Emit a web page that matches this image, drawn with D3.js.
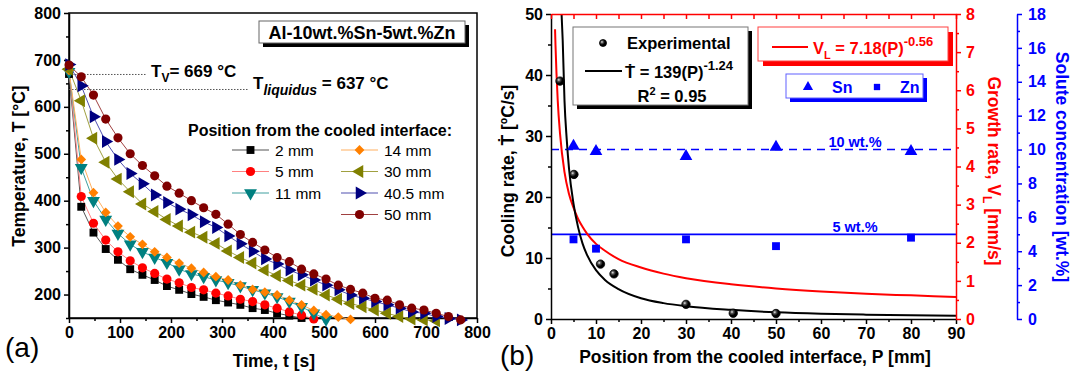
<!DOCTYPE html>
<html>
<head>
<meta charset="utf-8">
<script src="https://cdn.jsdelivr.net/npm/d3@7"></script>
<style>
body { margin: 0; background: #fff; }
svg text { font-family: "Liberation Sans", Arial, sans-serif; }
</style>
</head>
<body>
<svg id="chart" width="1072" height="378"></svg>
<script>
// ---- data (a): cooling curves, one reading every 24 s ----
var times = [0,24,48,72,96,120,144,168,192,216,240,264,288,312,336,360,384,408,432,456,480,504,528,552,576,600,624,648,672,696,720,744,768];
var series = [
  {name: "2 mm",    color: "#000000", line: "#555555", sym: "square",  T: [670,387,332,297,274,254,242,231,218,210,201,195,188,183,178,171,167,160,155,150]},
  {name: "5 mm",    color: "#ff0000", line: "#ff8080", sym: "circle",  T: [680,409,352,316,291,272,257,245,233,225,215,210,203,197,190,185,178,171,163,156,148]},
  {name: "11 mm",   color: "#008080", line: "#40a0a0", sym: "down",    T: [675,470,400,360,330,307,291,279,268,254,244,238,231,225,218,210,203,195,185,174,160,147]},
  {name: "14 mm",   color: "#ff8000", line: "#ffb060", sym: "diamond", T: [678,488,417,375,346,323,307,291,279,267,256,247,238,231,220,211,205,199,188,178,166,157,152,147]},
  {name: "30 mm",   color: "#808000", line: "#a0a040", sym: "left",    T: [680,613,533,482,446,419,393,377,360,346,333,322,309,293,279,267,252,240,230,220,211,199,190,181,174,167,160,153,148,146,144]},
  {name: "40.5 mm", color: "#000080", line: "#5050b0", sym: "right",   T: [690,645,579,526,488,458,436,412,396,382,370,355,343,325,308,292,276,265,252,242,231,220,210,199,192,185,178,171,163,160,153,149,146]},
  {name: "50 mm",   color: "#800000", line: "#a04040", sym: "circle",  T: [689,664,625,574,534,500,475,453,431,416,400,385,371,350,328,311,295,279,270,254,244,233,220,211,203,192,188,178,171,167,160,153,146]}
];
var tV = 669, tLiq = 637;

// ---- data (b) ----
var expP = [2, 5.1, 11, 14, 30, 40.5, 50];
var expRate = [39, 23.7, 9.0, 7.4, 2.4, 0.95, 0.9];
var fitP = [2.35,2.6,3,3.5,4,5,6,7,8,10,12,15,20,25,30,40,50,60,70,80,90];
var fitRate = [50,45.7,35.8,29.4,24.7,18.9,15.1,12.4,10.5,8.0,6.4,4.9,3.4,2.6,2.1,1.5,1.1,0.86,0.71,0.60,0.52];
var vlP = [0.9,1,1.5,2,3,4,5,6,7,8,10,12,15,20,25,30,40,50,60,70,80,90];
var vlRate = [7.6,7.18,5.72,4.87,3.85,3.28,2.92,2.63,2.42,2.24,1.97,1.79,1.57,1.35,1.19,1.07,0.91,0.80,0.72,0.66,0.62,0.58];
var soluteP = [5, 10, 30, 50, 80];
var snConc = [10.2, 9.9, 9.6, 10.15, 9.9];
var znConc = [4.7, 4.15, 4.7, 4.3, 4.8];
var snNominal = 10, znNominal = 5;

var svg = d3.select("#chart");

function styleAxis(g, color, fs) {
  g.selectAll("path,line").attr("stroke", color).attr("stroke-width", 1.5);
  g.selectAll("text").attr("fill", color).attr("font-size", fs || 16).attr("font-weight", "bold")
    .attr("font-family", "Liberation Sans, Arial, sans-serif");
}
function addAxis(gen, tx, ty, color, minorVals, minorGen) {
  var g = svg.append("g").attr("transform", "translate(" + tx + "," + ty + ")").call(gen);
  styleAxis(g, color);
  if (minorVals) {
    var m = svg.append("g").attr("transform", "translate(" + tx + "," + ty + ")")
      .call(minorGen.tickValues(minorVals).tickSize(3).tickFormat(""));
    m.select(".domain").remove();
    styleAxis(m, color);
  }
  return g;
}
function symbolPath(sym, size) {
  var s = {square: d3.symbolSquare, circle: d3.symbolCircle, diamond: d3.symbolSquare}[sym] || d3.symbolTriangle;
  return d3.symbol().type(s).size(size)();
}
function symbolRot(sym) {
  return sym == "down" ? 180 : sym == "left" ? -90 : sym == "right" ? 90 : sym == "diamond" ? 45 : 0;
}
function symbolSize(sym) {
  return sym == "circle" ? 66 : sym == "square" ? 62 : sym == "diamond" ? 48 : 72;
}

// ================= chart (a) =================
var xL = d3.scaleLinear().domain([0, 800]).range([69, 477]);
var yL = d3.scaleLinear().domain([150, 800]).range([318, 13]);

svg.append("rect").attr("x", 69).attr("y", 13).attr("width", 408).attr("height", 305)
  .attr("fill", "none").attr("stroke", "#000").attr("stroke-width", 1.5);

addAxis(d3.axisBottom(xL).tickValues(d3.range(0, 801, 100)).tickSize(5).tickSizeOuter(0).tickPadding(4),
  0, 318, "#000", d3.range(50, 800, 100), d3.axisBottom(xL));
addAxis(d3.axisLeft(yL).tickValues(d3.range(200, 801, 100)).tickSize(5).tickSizeOuter(0).tickPadding(3),
  69, 0, "#000", d3.range(150, 800, 100), d3.axisLeft(yL));

// liquidus / TV dotted lines
svg.append("line").attr("x1", xL(0)).attr("x2", 146).attr("y1", yL(tV)).attr("y2", yL(tV))
  .attr("stroke", "#555").attr("stroke-dasharray", "1.5,1.5");
svg.append("line").attr("x1", xL(0)).attr("x2", 248).attr("y1", yL(tLiq)).attr("y2", yL(tLiq))
  .attr("stroke", "#555").attr("stroke-dasharray", "1.5,1.5");

var tv = svg.append("text").attr("x", 151).attr("y", 77).attr("font-size", 17).attr("font-weight", "bold");
tv.append("tspan").text("T");
tv.append("tspan").attr("dy", 5).attr("font-size", 12).text("V");
tv.append("tspan").attr("dy", -5).text("= " + tV + " °C");
var tl = svg.append("text").attr("x", 253).attr("y", 89).attr("font-size", 17).attr("font-weight", "bold");
tl.append("tspan").text("T");
tl.append("tspan").attr("dy", 6).attr("font-size", 14).attr("font-style", "italic").text("liquidus");
tl.append("tspan").attr("dy", -6).text(" = " + tLiq + " °C");

// curves
var lineL = d3.line().x(function(d, i) { return xL(times[i]); }).y(function(d) { return yL(d); });
series.forEach(function(s) {
  svg.append("path").attr("d", lineL(s.T)).attr("fill", "none").attr("stroke", s.line).attr("stroke-width", 1);
});
series.forEach(function(s) {
  svg.append("g").selectAll("path").data(s.T).enter().append("path")
    .attr("d", symbolPath(s.sym, symbolSize(s.sym)))
    .attr("transform", function(d, i) { return "translate(" + xL(times[i]) + "," + yL(d) + ") rotate(" + symbolRot(s.sym) + ")"; })
    .attr("fill", s.color);
});

// alloy label box
svg.append("rect").attr("x", 263).attr("y", 25).attr("width", 206).attr("height", 22).attr("fill", "#000");
svg.append("rect").attr("x", 259).attr("y", 21).attr("width", 206).attr("height", 22)
  .attr("fill", "#fff").attr("stroke", "#666").attr("stroke-width", 1);
svg.append("text").attr("x", 362).attr("y", 39).attr("text-anchor", "middle")
  .attr("font-size", 18).attr("font-weight", "bold").text("Al-10wt.%Sn-5wt.%Zn");

// legend
svg.append("text").attr("x", 188).attr("y", 136).attr("font-size", 16).attr("font-weight", "bold")
  .text("Position from the cooled interface:");
var legPos = [[0,0],[0,1],[0,2],[1,0],[1,1],[1,2],[1,3]];
series.forEach(function(s, j) {
  var col = legPos[j][0], row = legPos[j][1];
  var x0 = col == 0 ? 232 : 341, y0 = 150 + row * 21.5;
  svg.append("line").attr("x1", x0).attr("x2", x0 + 37).attr("y1", y0).attr("y2", y0)
    .attr("stroke", s.line).attr("stroke-width", 1.2);
  svg.append("path").attr("d", symbolPath(s.sym, symbolSize(s.sym)))
    .attr("transform", "translate(" + (x0 + 18.5) + "," + y0 + ") rotate(" + symbolRot(s.sym) + ")")
    .attr("fill", s.color);
  svg.append("text").attr("x", x0 + 43).attr("y", y0 + 5.5).attr("font-size", 15.5).text(s.name);
});

svg.append("text").attr("x", 5).attr("y", 357).attr("font-size", 28).text("(a)");
svg.append("text").attr("x", 274).attr("y", 367).attr("text-anchor", "middle")
  .attr("font-size", 17.5).attr("font-weight", "bold").text("Time, t [s]");
svg.append("text").attr("transform", "translate(25,166) rotate(-90)").attr("text-anchor", "middle")
  .attr("font-size", 17.5).attr("font-weight", "bold").text("Temperature, T [°C]");

// ================= chart (b) =================
var xR = d3.scaleLinear().domain([0, 90]).range([551, 956]);
var yR = d3.scaleLinear().domain([0, 50]).range([319, 14]);
var yRed = d3.scaleLinear().domain([0, 8]).range([319, 14]);
var yBlue = d3.scaleLinear().domain([0, 18]).range([319, 14]);

var defs = svg.append("defs");
var grad = defs.append("radialGradient").attr("id", "ball").attr("cx", "35%").attr("cy", "35%").attr("r", "60%");
grad.append("stop").attr("offset", "0%").attr("stop-color", "#eee");
grad.append("stop").attr("offset", "30%").attr("stop-color", "#555");
grad.append("stop").attr("offset", "70%").attr("stop-color", "#000");
defs.append("clipPath").attr("id", "clipR").append("rect").attr("x", 551).attr("y", 14).attr("width", 405).attr("height", 305);

// nominal composition lines
svg.append("line").attr("x1", xR(0)).attr("x2", xR(90)).attr("y1", yBlue(snNominal)).attr("y2", yBlue(snNominal))
  .attr("stroke", "#0000ff").attr("stroke-width", 1.6).attr("stroke-dasharray", "8,6");
svg.append("line").attr("x1", xR(0)).attr("x2", xR(90)).attr("y1", yBlue(znNominal)).attr("y2", yBlue(znNominal))
  .attr("stroke", "#0000ff").attr("stroke-width", 1.8);
svg.append("text").attr("x", 855).attr("y", 147).attr("text-anchor", "middle").attr("fill", "#0000ff")
  .attr("font-size", 14.5).attr("font-weight", "bold").text(snNominal + " wt.%");
svg.append("text").attr("x", 855).attr("y", 232).attr("text-anchor", "middle").attr("fill", "#0000ff")
  .attr("font-size", 14.5).attr("font-weight", "bold").text(znNominal + " wt.%");

var plotR = svg.append("g").attr("clip-path", "url(#clipR)");
plotR.append("path")
  .attr("d", d3.line().curve(d3.curveMonotoneX).x(function(d, i) { return xR(vlP[i]); }).y(function(d) { return yRed(d); })(vlRate))
  .attr("fill", "none").attr("stroke", "#ff0000").attr("stroke-width", 2);
plotR.append("path")
  .attr("d", d3.line().curve(d3.curveMonotoneX).x(function(d, i) { return xR(fitP[i]); }).y(function(d) { return yR(d); })(fitRate))
  .attr("fill", "none").attr("stroke", "#000").attr("stroke-width", 2);

svg.append("g").selectAll("path").data(snConc).enter().append("path")
  .attr("d", d3.symbol().type(d3.symbolTriangle).size(70)())
  .attr("transform", function(d, i) { return "translate(" + xR(soluteP[i]) + "," + yBlue(d) + ")"; })
  .attr("fill", "#0000ff");
svg.append("g").selectAll("path").data(znConc).enter().append("path")
  .attr("d", d3.symbol().type(d3.symbolSquare).size(62)())
  .attr("transform", function(d, i) { return "translate(" + xR(soluteP[i]) + "," + yBlue(d) + ")"; })
  .attr("fill", "#0000ff");
svg.append("g").selectAll("circle").data(expRate).enter().append("circle")
  .attr("cx", function(d, i) { return xR(expP[i]); }).attr("cy", function(d) { return yR(d); })
  .attr("r", 4.2).attr("fill", "url(#ball)").attr("stroke", "#000").attr("stroke-width", 0.8);

// axes
addAxis(d3.axisBottom(xR).tickValues(d3.range(0, 91, 10)).tickSize(5).tickSizeOuter(0).tickPadding(4),
  0, 319, "#000", d3.range(5, 90, 10), d3.axisBottom(xR));
addAxis(d3.axisLeft(yR).tickValues(d3.range(0, 51, 10)).tickSize(5).tickSizeOuter(0).tickPadding(3),
  551, 0, "#000", d3.range(5, 50, 10), d3.axisLeft(yR));
var topAx = svg.append("g").attr("transform", "translate(0,14)")
  .call(d3.axisBottom(xR).tickValues(d3.range(0, 91, 5)).tickSize(5).tickSizeOuter(0).tickFormat(""));
styleAxis(topAx, "#ff0000");
addAxis(d3.axisRight(yRed).tickValues(d3.range(0, 9, 1)).tickSize(5).tickSizeOuter(0).tickPadding(5),
  956, 0, "#ff0000", d3.range(0.5, 8, 1), d3.axisRight(yRed));
addAxis(d3.axisRight(yBlue).tickValues(d3.range(0, 19, 2)).tickSize(5).tickSizeOuter(0).tickPadding(6),
  1017, 0, "#0000ff", d3.range(1, 18, 2), d3.axisRight(yBlue));

// legend 1
svg.append("rect").attr("x", 577).attr("y", 31).attr("width", 175).attr("height", 78).attr("fill", "#000");
svg.append("rect").attr("x", 573).attr("y", 27).attr("width", 175).attr("height", 78)
  .attr("fill", "#fff").attr("stroke", "#777").attr("stroke-width", 1);
svg.append("circle").attr("cx", 603).attr("cy", 43).attr("r", 3.5).attr("fill", "url(#ball)").attr("stroke", "#000").attr("stroke-width", 0.8);
svg.append("text").attr("x", 627).attr("y", 49).attr("font-size", 16.5).attr("font-weight", "bold").text("Experimental");
svg.append("line").attr("x1", 585).attr("x2", 622).attr("y1", 71).attr("y2", 71).attr("stroke", "#000").attr("stroke-width", 2);
var fitT = svg.append("text").attr("x", 625).attr("y", 78).attr("font-size", 16.5).attr("font-weight", "bold");
fitT.append("tspan").text("Ṫ = 139(P)");
fitT.append("tspan").attr("dy", -8).attr("font-size", 13).text("-1.24");
var r2 = svg.append("text").attr("x", 672).attr("y", 102).attr("text-anchor", "middle").attr("font-size", 16.5).attr("font-weight", "bold");
r2.append("tspan").text("R");
r2.append("tspan").attr("dy", -7).attr("font-size", 11).text("2");
r2.append("tspan").attr("dy", 7).text(" = 0.95");

// legend 2 (red)
svg.append("rect").attr("x", 763).attr("y", 32).attr("width", 190).attr("height", 34).attr("fill", "#ff0000");
svg.append("rect").attr("x", 758).attr("y", 27).attr("width", 190).attr("height", 34)
  .attr("fill", "#fff").attr("stroke", "#ff4040").attr("stroke-width", 1);
svg.append("line").attr("x1", 772).attr("x2", 808).attr("y1", 47).attr("y2", 47).attr("stroke", "#ff0000").attr("stroke-width", 2);
var vl = svg.append("text").attr("x", 813).attr("y", 54).attr("fill", "#ff0000").attr("font-size", 16.5).attr("font-weight", "bold");
vl.append("tspan").text("V");
vl.append("tspan").attr("dy", 5).attr("font-size", 11).text("L");
vl.append("tspan").attr("dy", -5).text(" = 7.18(P)");
vl.append("tspan").attr("dy", -8).attr("font-size", 13).text("-0.56");

// legend 3 (blue)
svg.append("rect").attr("x", 790).attr("y", 78).attr("width", 137).attr("height", 24).attr("fill", "#0000ff");
svg.append("rect").attr("x", 786).attr("y", 74).attr("width", 137).attr("height", 24)
  .attr("fill", "#fff").attr("stroke", "#6060ff").attr("stroke-width", 1);
svg.append("path").attr("d", d3.symbol().type(d3.symbolTriangle).size(45)()).attr("transform", "translate(808,87)").attr("fill", "#0000ff");
svg.append("text").attr("x", 832).attr("y", 93).attr("fill", "#0000ff").attr("font-size", 16).attr("font-weight", "bold").text("Sn");
svg.append("path").attr("d", d3.symbol().type(d3.symbolSquare).size(40)()).attr("transform", "translate(877,87)").attr("fill", "#0000ff");
svg.append("text").attr("x", 900).attr("y", 93).attr("fill", "#0000ff").attr("font-size", 16).attr("font-weight", "bold").text("Zn");

// titles
svg.append("text").attr("x", 500).attr("y", 365).attr("font-size", 28).text("(b)");
svg.append("text").attr("x", 755).attr("y", 363).attr("text-anchor", "middle")
  .attr("font-size", 17.5).attr("font-weight", "bold").text("Position from the cooled interface, P [mm]");
svg.append("text").attr("transform", "translate(514,171) rotate(-90)").attr("text-anchor", "middle")
  .attr("font-size", 17.5).attr("font-weight", "bold").text("Cooling rate, Ṫ [ºC/s]");
var gr = svg.append("text").attr("transform", "translate(988,171) rotate(90)").attr("text-anchor", "middle")
  .attr("fill", "#ff0000").attr("font-size", 17.5).attr("font-weight", "bold");
gr.append("tspan").text("Growth rate, V");
gr.append("tspan").attr("dy", 5).attr("font-size", 12).text("L");
gr.append("tspan").attr("dy", -5).text(" [mm/s]");
svg.append("text").attr("transform", "translate(1056,167) rotate(90)").attr("text-anchor", "middle")
  .attr("fill", "#0000ff").attr("font-size", 17.5).attr("font-weight", "bold").text("Solute concentration [wt.%]");
</script>
</body>
</html>
